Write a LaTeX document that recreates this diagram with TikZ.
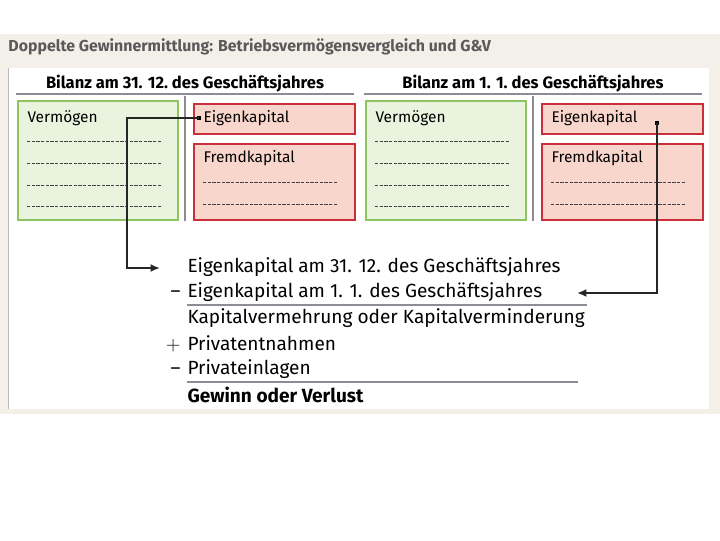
\documentclass[tikz,border=0pt]{standalone}
\usepackage{fontspec}
\setmainfont{Fira Sans}
\usetikzlibrary{arrows.meta}

\definecolor{bgbeige}{HTML}{F3EFE9}
\definecolor{gfill}{HTML}{E9F3DE}
\definecolor{gline}{HTML}{8DC45E}
\definecolor{rfill}{HTML}{F9D6CC}
\definecolor{rline}{HTML}{C9303C}
\definecolor{rulegrey}{HTML}{8C8C94}
\definecolor{titlegrey}{HTML}{5A5A5A}

\tikzset{every picture/.style={line width=0.75pt}}
\tikzset{
  vbox/.style={draw=gline, fill=gfill, line width=1.5pt, anchor=north west, inner sep=0pt},
  kbox/.style={draw=rline, fill=rfill, line width=1.5pt, anchor=north west, inner sep=0pt},
  boxtext/.style={anchor=west, inner sep=0pt, font=\fontsize{11.6}{13}\selectfont},
  headtext/.style={inner sep=0pt, font=\fontsize{12.4}{14}\selectfont\bfseries},
  calctext/.style={anchor=west, inner sep=0pt, font=\fontsize{14.3}{16}\selectfont},
  signtext/.style={inner sep=0pt, anchor=base east, font=\fontsize{14.3}{16}\selectfont},
  dotline/.style={draw=black!75, line width=0.6pt, dash pattern=on 2.4pt off 1.1pt},
  greyrule/.style={draw=rulegrey, line width=1.5pt},
  linkarrow/.style={draw=black!85, line width=1.6pt, -{Latex[length=7pt,width=6pt]}},
  linkdot/.style={fill=black, inner sep=0pt, minimum size=3pt}
}

\begin{document}
\begin{tikzpicture}[x=0.75pt,y=0.75pt,yscale=-1,xscale=1]
        \useasboundingbox (0,0) rectangle (720,540);

        % Background
        \fill[bgbeige] (0,34) rectangle (720,414);
        \fill[white] (9,68) rectangle (709,409);
        \draw[rulegrey!60, line width=1pt] (8.5,68) -- (8.5,409);

        % Title
        \node[anchor=west, inner sep=0pt, text=titlegrey, font=\fontsize{11.9}{13}\selectfont\bfseries] (title) at (8,47) {Doppelte Gewinnermittlung: Betriebsvermögensvergleich und G\&V};

        % Two balance sheets
        \foreach \dx/\n/\datum in {0/a/31. 12., 348/b/1. 1.} {
          \begin{scope}[xshift=\dx*0.75pt]
            \node[headtext] (head\n) at (185,84) {Bilanz am \datum\ des Geschäftsjahres};
            \draw[greyrule] (16,94) -- (354,94);
            \draw[greyrule] (185,96) -- (185,221);

            \node[vbox, minimum width=120pt, minimum height=89.25pt] (verm\n) at (17,100) {};
            \node[kbox, minimum width=120.75pt, minimum height=22.5pt] (ek\n) at (193,103) {};
            \node[kbox, minimum width=120.75pt, minimum height=57pt] (fk\n) at (193,143) {};

            \node[boxtext] (vermtxt\n) at (27,118) {Vermögen};
            \node[boxtext] (ektxt\n) at (203,118) {Eigenkapital};
            \node[boxtext] (fktxt\n) at (203,158) {Fremdkapital};

            \foreach \y in {141,163,185,206}
              \draw[dotline] (27,\y) -- (162,\y);
            \foreach \y in {182,204}
              \draw[dotline] (203,\y) -- (338,\y);
          \end{scope}
        }

        % Calculation
        \node[calctext] (ekend) at (187,267) {Eigenkapital am 31. 12. des Geschäftsjahres};
        \node[calctext] (ekstart) at (187,292) {Eigenkapital am 1. 1. des Geschäftsjahres};
        \node[calctext] (diff) at (187,318) {Kapitalvermehrung oder Kapitalverminderung};
        \node[calctext] (entnahme) at (187,343) {Privatentnahmen};
        \node[calctext] (einlage) at (187,369) {Privateinlagen};
        \node[calctext, font=\fontsize{14.3}{16}\selectfont\bfseries] (result) at (187,395) {Gewinn oder Verlust};

        \node[signtext] (minusa) at ([xshift=-4.5pt]ekstart.base west) {–};
        \node[signtext] (plus) at ([xshift=-4.5pt]entnahme.base west) {$+$};
        \node[signtext] (minusb) at ([xshift=-4.5pt]einlage.base west) {–};

        \draw[greyrule] (187,305) -- (587,305);
        \draw[greyrule] (187,382) -- (578,382);

        % Links
        \node[linkdot] (ekdota) at (199,118) {};
        \node[linkdot] (ekdotb) at (657,123) {};
        \coordinate (turna) at (127,118);
        \coordinate (enda) at (160,268);
        \coordinate (endb) at (577,293);
        \draw[linkarrow] (ekdota.center) -- (turna) |- (enda);
        \draw[linkarrow] (ekdotb.center) |- (endb);

\end{tikzpicture}
\end{document}
